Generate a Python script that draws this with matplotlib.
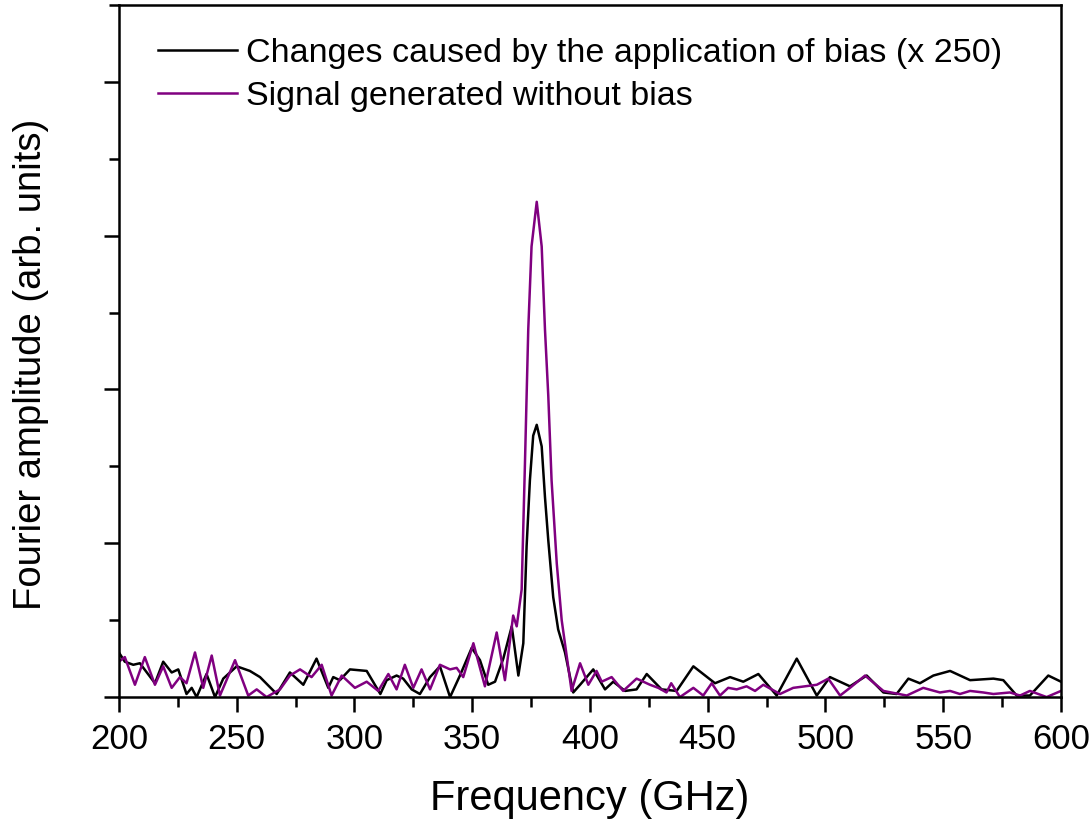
import matplotlib
matplotlib.use("Agg")
import matplotlib.pyplot as plt
from matplotlib.ticker import MultipleLocator, NullFormatter

plt.rcParams['font.family'] = ['Liberation Sans', 'DejaVu Sans']

# changes caused by bias (x 250), black
f_bias = [200, 202.5, 206.1, 208.9, 215.3, 218.8, 222.4, 225.2, 228.7, 230.9,
          233.0, 237.2, 240.8, 244.3, 250.0, 255.6, 259.9, 267.0, 272.6, 278.3,
          283.9, 288.9, 291.0, 293.8, 298.1, 305.2, 311.0, 313.7, 317.9, 320.7,
          324.3, 327.8, 332.1, 336.3, 340.6, 344.8, 349.8, 353.3, 356.8, 359.7,
          363.2, 366.8, 369.6, 371.7, 373.1, 374.5, 375.9, 377.4, 379.5, 380.9,
          382.3, 384.4, 386.5, 389.4, 392.9, 395.8, 401.4, 406.4, 409.9, 414.9,
          419.8, 424.1, 430.4, 436.8, 443.9, 453.1, 459.5, 465.1, 471.5, 479.3,
          487.8, 496.3, 501.9, 510.4, 517.5, 524.6, 530.2, 535.2, 540.1, 545.8,
          552.9, 561.4, 571.3, 575.5, 581.2, 586.8, 594.6, 600]
a_bias = [0.29, 0.23, 0.21, 0.22, 0.09, 0.23, 0.16, 0.18, 0.02, 0.06,
          0.0, 0.15, 0.0, 0.12, 0.20, 0.17, 0.13, 0.02, 0.16, 0.08,
          0.25, 0.06, 0.13, 0.11, 0.18, 0.17, 0.02, 0.11, 0.14, 0.12,
          0.05, 0.02, 0.13, 0.20, 0.0, 0.14, 0.32, 0.24, 0.08, 0.10,
          0.25, 0.46, 0.14, 0.35, 0.98, 1.41, 1.70, 1.77, 1.63, 1.30,
          1.02, 0.65, 0.44, 0.29, 0.03, 0.08, 0.18, 0.05, 0.10, 0.04,
          0.05, 0.15, 0.05, 0.04, 0.20, 0.09, 0.13, 0.10, 0.15, 0.01,
          0.25, 0.01, 0.13, 0.07, 0.14, 0.03, 0.02, 0.12, 0.09, 0.14,
          0.17, 0.11, 0.12, 0.11, 0.01, 0.01, 0.14, 0.10]

# signal without bias, purple
f_sig = [200, 202.5, 206.8, 211.0, 215.3, 218.8, 222.4, 225.9, 228.7, 232.3,
         235.8, 239.4, 242.9, 249.3, 254.9, 258.5, 262.7, 268.4, 272.6, 276.9,
         281.8, 286.1, 290.3, 294.6, 300.2, 305.2, 310.1, 314.4, 317.9, 321.4,
         325.0, 328.5, 332.1, 336.3, 340.6, 343.4, 346.2, 350.5, 355.4, 360.4,
         363.9, 367.4, 368.9, 371.0, 372.4, 373.8, 375.2, 377.4, 379.5, 380.9,
         382.3, 383.7, 385.9, 388.0, 392.2, 395.8, 399.3, 402.8, 405.0, 409.2,
         414.1, 419.8, 425.5, 429.0, 432.5, 434.5, 438.2, 443.9, 448.1, 451.7,
         455.2, 458.7, 462.3, 466.5, 470.1, 473.6, 480.7, 486.3, 496.3, 501.2,
         506.2, 510.4, 516.8, 524.6, 534.5, 541.5, 548.6, 552.9, 557.1, 561.4,
         567.0, 571.3, 578.3, 582.6, 586.8, 593.9, 600]
a_sig = [0.23, 0.26, 0.08, 0.26, 0.08, 0.20, 0.06, 0.13, 0.09, 0.29,
         0.06, 0.27, 0.01, 0.24, 0.01, 0.05, 0.0, 0.05, 0.14, 0.18,
         0.13, 0.21, 0.01, 0.14, 0.06, 0.10, 0.04, 0.15, 0.05, 0.21,
         0.06, 0.18, 0.05, 0.21, 0.18, 0.19, 0.13, 0.35, 0.07, 0.42,
         0.11, 0.53, 0.46, 0.70, 1.52, 2.39, 2.93, 3.22, 2.93, 2.39,
         1.96, 1.41, 0.87, 0.50, 0.04, 0.22, 0.08, 0.17, 0.10, 0.13,
         0.04, 0.12, 0.08, 0.06, 0.03, 0.09, 0.0, 0.06, 0.01, 0.09,
         0.01, 0.06, 0.05, 0.07, 0.04, 0.08, 0.02, 0.06, 0.08, 0.12,
         0.01, 0.06, 0.14, 0.04, 0.01, 0.06, 0.03, 0.04, 0.02, 0.04,
         0.03, 0.02, 0.03, 0.01, 0.04, 0.0, 0.04]

fig = plt.figure(figsize=(10.91, 8.23), dpi=100)
ax = fig.add_axes([0.109, 0.153, 0.8635, 0.841])

ax.plot(f_bias, a_bias, color='black', lw=1.8,
        label='Changes caused by the application of bias (x 250)')
ax.plot(f_sig, a_sig, color='#800080', lw=1.8,
        label='Signal generated without bias')

ax.set_xlim(200, 600)
ax.set_ylim(0, 4.5)
ax.xaxis.set_major_locator(MultipleLocator(50))
ax.xaxis.set_minor_locator(MultipleLocator(25))
ax.yaxis.set_major_locator(MultipleLocator(1))
ax.yaxis.set_minor_locator(MultipleLocator(0.5))
ax.yaxis.set_major_formatter(NullFormatter())
ax.tick_params(which='major', direction='out', length=11, width=1.8, labelsize=25, pad=8)
ax.tick_params(which='minor', direction='out', length=7, width=1.8)
for s in ax.spines.values():
    s.set_linewidth(1.8)

ax.set_xlabel('Frequency (GHz)', fontsize=30, labelpad=16)
ax.set_ylabel('Fourier amplitude (arb. units)', fontsize=27.5)
ax.yaxis.set_label_coords(-0.074, 0.481)

ax.legend(loc='upper left', bbox_to_anchor=(0.042, 0.952), frameon=False,
          fontsize=24.5, handlelength=2.3, handletextpad=0.27, labelspacing=0.34,
          borderpad=0, borderaxespad=0)

fig.savefig('out.png', dpi=100)
